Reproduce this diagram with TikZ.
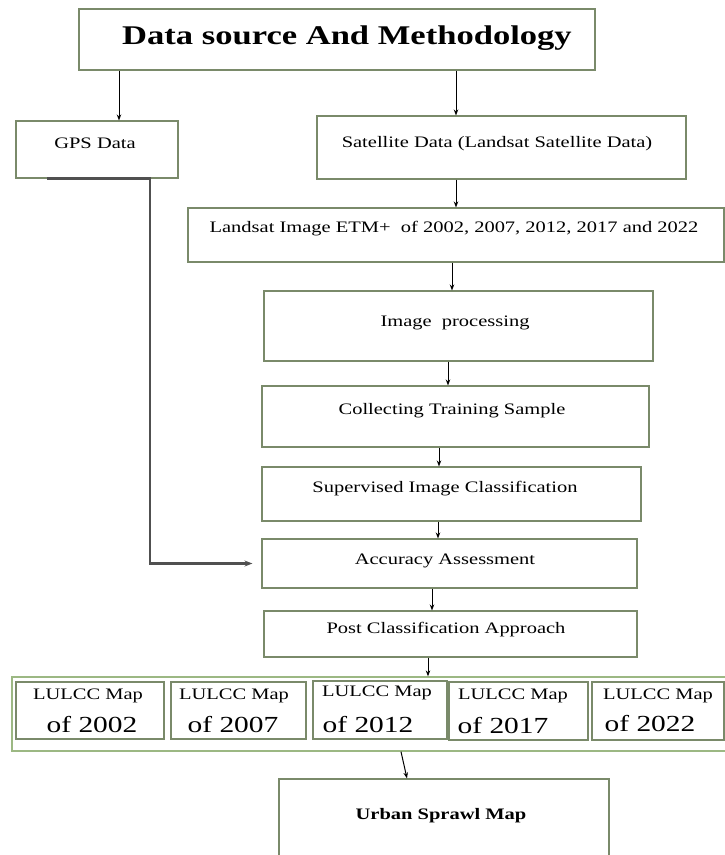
\documentclass[tikz,border=0pt]{standalone}
\usepackage{fontspec}
\setmainfont{Liberation Serif}[FakeStretch=1.28]
\usetikzlibrary{arrows.meta,calc}
\definecolor{boxc}{HTML}{7A8A6A}
\definecolor{outc}{HTML}{9CB883}
\definecolor{gpsc}{HTML}{505050}
\begin{document}
\begin{tikzpicture}[x=1pt,y=-1pt,
  box/.style={draw=boxc,line width=1.1pt,fill=white,rectangle,inner sep=0pt},
  outbox/.style={draw=outc,line width=1.3pt,fill=white,rectangle,inner sep=0pt},
  txt/.style={font=\fontsize{16}{19}\selectfont,inner sep=0pt,text=black},
  btxt/.style={font=\bfseries\fontsize{16}{19}\selectfont,inner sep=0pt,text=black},
  ttl/.style={font=\bfseries\fontsize{27}{32}\selectfont,inner sep=0pt,text=black},
  yr/.style={font=\fontsize{23}{27}\selectfont,inner sep=0pt,text=black},
  arr/.style={-{Stealth[length=6pt,width=4.5pt]},line width=1pt,black},
  gpsline/.style={-{Stealth[length=8pt,width=6pt]},line width=2.3pt,gpsc},
]
\useasboundingbox (0,0) rectangle (725,855);
\clip (0,0) rectangle (725,855);
\fill[white] (0,0) rectangle (725,855);

% boxes
\node[box,minimum width=516pt,minimum height=61pt] (title) at (337,39.5) {};
\node[box,minimum width=162pt,minimum height=57pt] (gps) at (97,149.5) {};
\node[box,minimum width=369pt,minimum height=63pt] (sat) at (501.5,147.5) {};
\node[box,minimum width=536pt,minimum height=54pt] (land) at (456,235) {};
\node[box,minimum width=389pt,minimum height=70pt] (improc) at (458.5,326) {};
\node[box,minimum width=387pt,minimum height=61pt] (collect) at (455.5,416.5) {};
\node[box,minimum width=379pt,minimum height=54pt] (superv) at (451.5,494) {};
\node[box,minimum width=375pt,minimum height=49pt] (acc) at (449.5,563.5) {};
\node[box,minimum width=373pt,minimum height=46pt] (post) at (450.5,634) {};
\node[outbox,minimum width=715pt,minimum height=74pt] (lulcc) at (369.5,714) {};
\node[box,minimum width=148pt,minimum height=57pt] (m1) at (90,710.5) {};
\node[box,minimum width=135pt,minimum height=57pt] (m2) at (238.5,710.5) {};
\node[box,minimum width=134pt,minimum height=58pt] (m3) at (380,710) {};
\node[box,minimum width=139pt,minimum height=58pt] (m4) at (518.5,711) {};
\node[box,minimum width=132pt,minimum height=58pt] (m5) at (658,711) {};
\node[box,minimum width=330pt,minimum height=91pt] (urban) at (444,824.5) {};

% texts
\node[ttl] (titleT) at (347,38) {Data source And Methodology};
\node[txt] (gpsT) at (95,143) {GPS Data};
\node[txt] (satT) at (497,144) {Satellite Data (Landsat Satellite Data)};
\node[txt] (landT) at (454,229) {Landsat Image ETM+\ \ of 2002, 2007, 2012, 2017 and 2022};
\node[txt] (improcT) at (455,323) {Image\ \ processing};
\node[txt] (collectT) at (452,411) {Collecting Training Sample};
\node[txt] (supervT) at (445,489) {Supervised Image Classification};
\node[txt] (accT) at (445,561) {Accuracy Assessment};
\node[txt] (postT) at (446,630) {Post Classification Approach};
\node[btxt] (urbanT) at (441,816) {Urban Sprawl Map};

\node[txt] (m1a) at (88,696) {LULCC Map};
\node[txt] (m2a) at (234,696) {LULCC Map};
\node[txt] (m3a) at (377,693) {LULCC Map};
\node[txt] (m4a) at (513,696) {LULCC Map};
\node[txt] (m5a) at (658,696) {LULCC Map};
\node[yr] (m1b) at (92,725) {of 2002};
\node[yr] (m2b) at (233,725) {of 2007};
\node[yr] (m3b) at (368,725) {of 2012};
\node[yr] (m4b) at (503,726) {of 2017};
\node[yr] (m5b) at (650,724) {of 2022};

% arrows
\coordinate (c1) at (119,0);
\coordinate (c2) at (456,0);
\coordinate (c4) at (452,0);
\coordinate (c5) at (448,0);
\coordinate (c6) at (439,0);
\coordinate (c7) at (438,0);
\coordinate (c8) at (432,0);
\coordinate (c9) at (428,0);
\coordinate (c10a) at (401,0);
\coordinate (c10b) at (407,0);
\draw[arr] (c1 |- title.south) -- (c1 |- gps.north);
\draw[arr] (c2 |- title.south) -- (c2 |- sat.north);
\draw[arr] (c2 |- sat.south) -- (c2 |- land.north);
\draw[arr] (c4 |- land.south) -- (c4 |- improc.north);
\draw[arr] (c5 |- improc.south) -- (c5 |- collect.north);
\draw[arr] (c6 |- collect.south) -- (c6 |- superv.north);
\draw[arr] (c7 |- superv.south) -- (c7 |- acc.north);
\draw[arr] (c8 |- acc.south) -- (c8 |- post.north);
\draw[arr] (c9 |- post.south) -- (c9 |- lulcc.north);
\draw[arr] (c10a |- lulcc.south) -- (c10b |- urban.north);

% GPS connector
\coordinate (g0) at (47,0);
\coordinate (gx) at (150,0);
\draw[gpsline] (g0 |- gps.south) -- (gx |- gps.south) -- (gx |- acc.west) -- ([xshift=-9pt]acc.west);
\end{tikzpicture}
\end{document}
